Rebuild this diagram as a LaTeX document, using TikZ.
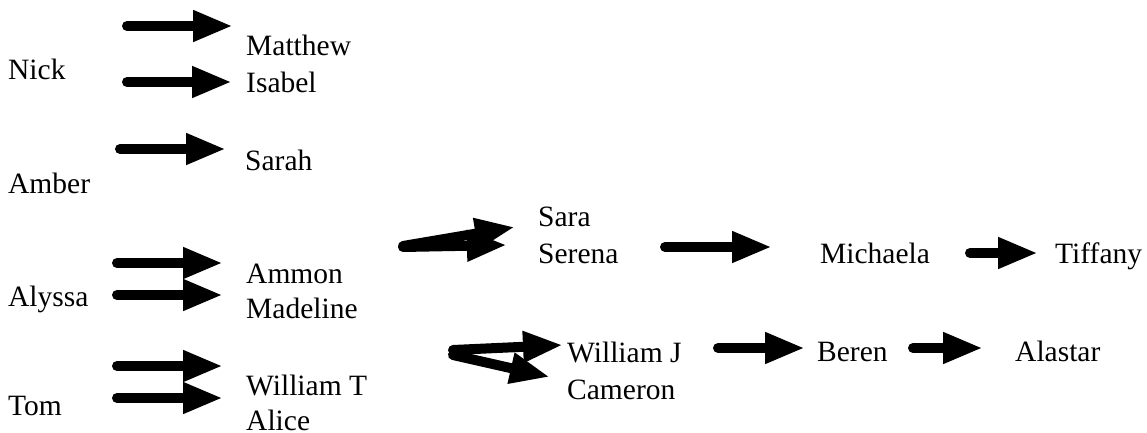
\documentclass[tikz,border=0pt]{standalone}
\usepackage{fontspec}
\setmainfont{Liberation Serif}
\usetikzlibrary{arrows.meta}
\begin{document}
\begin{tikzpicture}[x=1pt,y=-1pt,
  lbl/.style={anchor=base west,inner sep=0pt,font=\fontsize{29.5}{34}\selectfont},
  fat/.style={line width=10pt,line cap=round,-{Triangle[length=40pt,width=29pt]}}]
\useasboundingbox (0,0) rectangle (1147,433);
% names
\node[lbl] (nick) at (8,80) {Nick};
\node[lbl] (amber) at (8,193) {Amber};
\node[lbl] (alyssa) at (8,306) {Alyssa};
\node[lbl] (tom) at (8,415) {Tom};
\node[lbl] (matthew) at (246,56) {Matthew};
\node[lbl] (isabel) at (246,93) {Isabel};
\node[lbl] (sarah) at (245,170) {Sarah};
\node[lbl] (ammon) at (246,283) {Ammon};
\node[lbl] (madeline) at (246,318) {Madeline};
\node[lbl] (williamt) at (246,395) {William T};
\node[lbl] (alice) at (246,430) {Alice};
\node[lbl] (sara) at (538,226) {Sara};
\node[lbl] (serena) at (538,263) {Serena};
\node[lbl] (michaela) at (820,263) {Michaela};
\node[lbl] (tiffany) at (1055,263) {Tiffany};
\node[lbl] (williamj) at (567,362) {William J};
\node[lbl] (cameron) at (567,399) {Cameron};
\node[lbl] (beren) at (817,361) {Beren};
\node[lbl] (alastar) at (1015,361) {Alastar};
% arrow ends
\coordinate (a1s) at (127,26);  \coordinate (a1e) at (233,26);
\coordinate (a2s) at (127,82);  \coordinate (a2e) at (232,82);
\coordinate (a3s) at (120,149); \coordinate (a3e) at (226,149);
\coordinate (a4s) at (117,263); \coordinate (a4e) at (223,263);
\coordinate (a5s) at (117,295); \coordinate (a5e) at (223,295);
\coordinate (a6s) at (117,366); \coordinate (a6e) at (223,366);
\coordinate (a7s) at (117,398); \coordinate (a7e) at (223,398);
\coordinate (b1s) at (403,246); \coordinate (b1e) at (515,227);
\coordinate (b2s) at (403,247); \coordinate (b2e) at (507,245);
\coordinate (c1s) at (453,350); \coordinate (c1e) at (563,345);
\coordinate (c2s) at (453,355); \coordinate (c2e) at (550,377);
\coordinate (d1s) at (665,247); \coordinate (d1e) at (772,247);
\coordinate (d2s) at (970,253); \coordinate (d2e) at (1038,253);
\coordinate (e1s) at (718,348); \coordinate (e1e) at (805,348);
\coordinate (e2s) at (913,348); \coordinate (e2e) at (983,348);
\foreach \p in {a1,a2,a3,a4,a5,a6,a7,b1,b2,c1,c2,d1,d2,e1,e2}
  \draw[fat] (\p s) -- (\p e);
\end{tikzpicture}
\end{document}
